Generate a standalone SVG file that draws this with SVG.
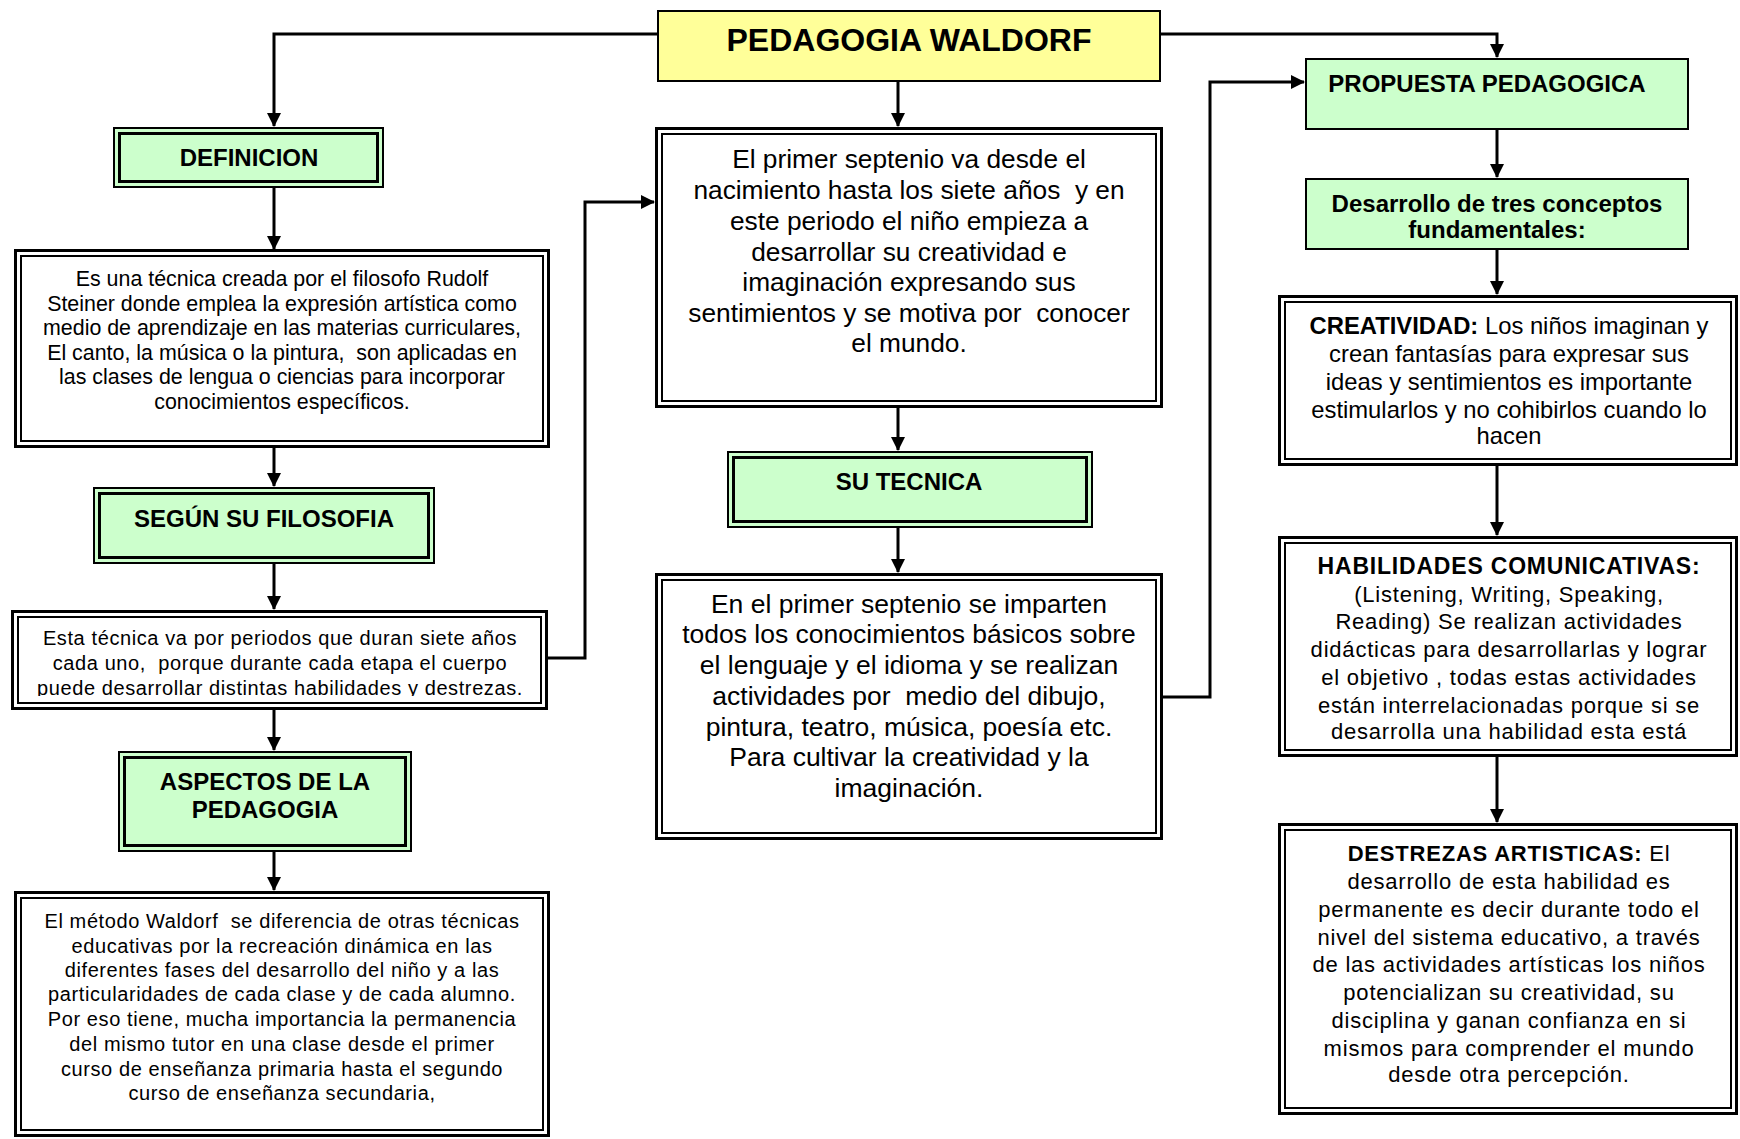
<svg xmlns="http://www.w3.org/2000/svg" width="1740" height="1139" viewBox="0 0 1740 1139" xml:space="preserve">
<style>
text{font-family:"Liberation Sans",Arial,Helvetica,sans-serif;fill:#000;text-anchor:middle;white-space:pre}
.b{font-weight:bold}
.hdr{font-weight:bold;font-size:24px}
.gOut{fill:#CCFFCC;stroke:#000;stroke-width:2}
.gIn{fill:none;stroke:#000;stroke-width:3}
.wOut{fill:#fff;stroke:#000;stroke-width:3}
.wIn{fill:none;stroke:#000;stroke-width:2}
.single{fill:#CCFFCC;stroke:#000;stroke-width:2}
.t21{font-size:21.4px}
.t20w{font-size:20px;letter-spacing:0.6px}
.t26{font-size:26.3px}
.t23{font-size:23.8px}
.t22w{font-size:22px;letter-spacing:0.8px}
.conn{fill:none;stroke:#000;stroke-width:3}
</style>
<defs>
<marker id="arr" markerUnits="userSpaceOnUse" markerWidth="14" markerHeight="14" viewBox="0 0 14 14" refX="13" refY="7" orient="auto">
<path d="M0,0 L14,7 L0,14 Z" fill="#000"/>
</marker>
<clipPath id="clipEsta"><rect x="16" y="614" width="527" height="82"/></clipPath>
</defs>

<g id="connectors">
<path class="conn" d="M657,34 H274 V126" marker-end="url(#arr)"/>
<path class="conn" d="M1161,34 H1497 V57" marker-end="url(#arr)"/>
<path class="conn" d="M898,81 V126" marker-end="url(#arr)"/>
<path class="conn" d="M274,188 V249" marker-end="url(#arr)"/>
<path class="conn" d="M274,448 V486" marker-end="url(#arr)"/>
<path class="conn" d="M274,564 V609" marker-end="url(#arr)"/>
<path class="conn" d="M274,710 V750" marker-end="url(#arr)"/>
<path class="conn" d="M274,852 V890" marker-end="url(#arr)"/>
<path class="conn" d="M548,658 H585 V202 H654" marker-end="url(#arr)"/>
<path class="conn" d="M898,408 V450" marker-end="url(#arr)"/>
<path class="conn" d="M898,528 V572" marker-end="url(#arr)"/>
<path class="conn" d="M1163,697 H1210 V82 H1304" marker-end="url(#arr)"/>
<path class="conn" d="M1497,130 V177" marker-end="url(#arr)"/>
<path class="conn" d="M1497,250 V294" marker-end="url(#arr)"/>
<path class="conn" d="M1497,466 V535" marker-end="url(#arr)"/>
<path class="conn" d="M1497,757 V822" marker-end="url(#arr)"/>
</g>

<g id="title">
<rect x="658" y="11" width="502" height="70" fill="#FFFF99" stroke="#000" stroke-width="2"/>
<text class="b" x="909" y="51" style="font-size:32px">PEDAGOGIA WALDORF</text>
</g>

<g id="definicion">
<rect class="gOut" x="114" y="128" width="269" height="59"/>
<rect class="gIn" x="119.5" y="133.5" width="258" height="48"/>
<text class="hdr" x="249" y="166">DEFINICION</text>
</g>

<g id="definicion-texto">
<rect class="wOut" x="15.5" y="250.5" width="533" height="196"/>
<rect class="wIn" x="21" y="256" width="522" height="185"/>
<text class="t21" x="282" y="286">Es una técnica creada por el filosofo Rudolf</text>
<text class="t21" x="282" y="310.5">Steiner donde emplea la expresión artística como</text>
<text class="t21" x="282" y="335">medio de aprendizaje en las materias curriculares,</text>
<text class="t21" x="282" y="359.5">El canto, la música o la pintura,  son aplicadas en</text>
<text class="t21" x="282" y="384">las clases de lengua o ciencias para incorporar</text>
<text class="t21" x="282" y="409">conocimientos específicos.</text>
</g>

<g id="segun">
<rect class="gOut" x="94" y="488" width="340" height="75"/>
<rect class="gIn" x="99.5" y="493.5" width="329" height="64"/>
<text class="hdr" x="264" y="527">SEGÚN SU FILOSOFIA</text>
</g>

<g id="esta-tecnica">
<rect class="wOut" x="12.5" y="611.5" width="534" height="97"/>
<rect class="wIn" x="18" y="617" width="523" height="86"/>
<g clip-path="url(#clipEsta)">
<text class="t20w" x="280" y="645">Esta técnica va por periodos que duran siete años</text>
<text class="t20w" x="280" y="670">cada uno,  porque durante cada etapa el cuerpo</text>
<text class="t20w" x="280" y="694.5">puede desarrollar distintas habilidades y destrezas.</text>
</g>
</g>

<g id="aspectos">
<rect class="gOut" x="119" y="752" width="292" height="99"/>
<rect class="gIn" x="124.5" y="757.5" width="281" height="88"/>
<text class="hdr" x="265" y="790">ASPECTOS DE LA</text>
<text class="hdr" x="265" y="818">PEDAGOGIA</text>
</g>

<g id="metodo">
<rect class="wOut" x="15.5" y="892.5" width="533" height="243"/>
<rect class="wIn" x="21" y="898" width="522" height="232"/>
<text class="t20w" x="282" y="928">El método Waldorf  se diferencia de otras técnicas</text>
<text class="t20w" x="282" y="952.5">educativas por la recreación dinámica en las</text>
<text class="t20w" x="282" y="977">diferentes fases del desarrollo del niño y a las</text>
<text class="t20w" x="282" y="1001">particularidades de cada clase y de cada alumno.</text>
<text class="t20w" x="282" y="1026">Por eso tiene, mucha importancia la permanencia</text>
<text class="t20w" x="282" y="1051">del mismo tutor en una clase desde el primer</text>
<text class="t20w" x="282" y="1075.5">curso de enseñanza primaria hasta el segundo</text>
<text class="t20w" x="282" y="1100">curso de enseñanza secundaria,</text>
</g>

<g id="primer-septenio">
<rect class="wOut" x="656.5" y="128.5" width="505" height="278"/>
<rect class="wIn" x="662" y="134" width="494" height="267"/>
<text class="t26" x="909" y="168">El primer septenio va desde el</text>
<text class="t26" x="909" y="199">nacimiento hasta los siete años  y en</text>
<text class="t26" x="909" y="230">este periodo el niño empieza a</text>
<text class="t26" x="909" y="261">desarrollar su creatividad e</text>
<text class="t26" x="909" y="291">imaginación expresando sus</text>
<text class="t26" x="909" y="322">sentimientos y se motiva por  conocer</text>
<text class="t26" x="909" y="352">el mundo.</text>
</g>

<g id="su-tecnica">
<rect class="gOut" x="728" y="452" width="364" height="75"/>
<rect class="gIn" x="733.5" y="457.5" width="353" height="64"/>
<text class="hdr" x="909" y="490">SU TECNICA</text>
</g>

<g id="imparten">
<rect class="wOut" x="656.5" y="574.5" width="505" height="264"/>
<rect class="wIn" x="662" y="580" width="494" height="253"/>
<text class="t26" x="909" y="613" style="font-size:26.5px">En el primer septenio se imparten</text>
<text class="t26" x="909" y="643" style="font-size:26.5px">todos los conocimientos básicos sobre</text>
<text class="t26" x="909" y="674" style="font-size:26.5px">el lenguaje y el idioma y se realizan</text>
<text class="t26" x="909" y="705" style="font-size:26.5px">actividades por  medio del dibujo,</text>
<text class="t26" x="909" y="736" style="font-size:26.5px">pintura, teatro, música, poesía etc.</text>
<text class="t26" x="909" y="766" style="font-size:26.5px">Para cultivar la creatividad y la</text>
<text class="t26" x="909" y="797" style="font-size:26.5px">imaginación.</text>
</g>

<g id="propuesta">
<rect class="single" x="1306" y="59" width="382" height="70"/>
<text class="hdr" x="1487" y="92">PROPUESTA PEDAGOGICA</text>
</g>

<g id="desarrollo">
<rect class="single" x="1306" y="179" width="382" height="70"/>
<text class="hdr" x="1497" y="212">Desarrollo de tres conceptos</text>
<text class="hdr" x="1497" y="238">fundamentales:</text>
</g>

<g id="creatividad">
<rect class="wOut" x="1279.5" y="296.5" width="457" height="168"/>
<rect class="wIn" x="1285" y="302" width="446" height="157"/>
<text class="t23" x="1509" y="334"><tspan class="b">CREATIVIDAD:</tspan> Los niños imaginan y</text>
<text class="t23" x="1509" y="362">crean fantasías para expresar sus</text>
<text class="t23" x="1509" y="390">ideas y sentimientos es importante</text>
<text class="t23" x="1509" y="418">estimularlos y no cohibirlos cuando lo</text>
<text class="t23" x="1509" y="444">hacen</text>
</g>

<g id="habilidades">
<rect class="wOut" x="1279.5" y="537.5" width="457" height="218"/>
<rect class="wIn" x="1285" y="543" width="446" height="207"/>
<text class="t22w b" x="1509" y="574" style="font-size:23px">HABILIDADES COMUNICATIVAS:</text>
<text class="t22w" x="1509" y="601.5">(Listening, Writing, Speaking,</text>
<text class="t22w" x="1509" y="629">Reading) Se realizan actividades</text>
<text class="t22w" x="1509" y="657">didácticas para desarrollarlas y lograr</text>
<text class="t22w" x="1509" y="685">el objetivo , todas estas actividades</text>
<text class="t22w" x="1509" y="712.5">están interrelacionadas porque si se</text>
<text class="t22w" x="1509" y="739">desarrolla una habilidad esta está</text>
</g>

<g id="destrezas">
<rect class="wOut" x="1279.5" y="824.5" width="457" height="289"/>
<rect class="wIn" x="1285" y="830" width="446" height="278"/>
<text class="t22w" x="1509" y="861"><tspan class="b">DESTREZAS ARTISTICAS:</tspan> El</text>
<text class="t22w" x="1509" y="889">desarrollo de esta habilidad es</text>
<text class="t22w" x="1509" y="917">permanente es decir durante todo el</text>
<text class="t22w" x="1509" y="944.5">nivel del sistema educativo, a través</text>
<text class="t22w" x="1509" y="972">de las actividades artísticas los niños</text>
<text class="t22w" x="1509" y="1000">potencializan su creatividad, su</text>
<text class="t22w" x="1509" y="1028">disciplina y ganan confianza en si</text>
<text class="t22w" x="1509" y="1055.5">mismos para comprender el mundo</text>
<text class="t22w" x="1509" y="1082">desde otra percepción.</text>
</g>
</svg>
